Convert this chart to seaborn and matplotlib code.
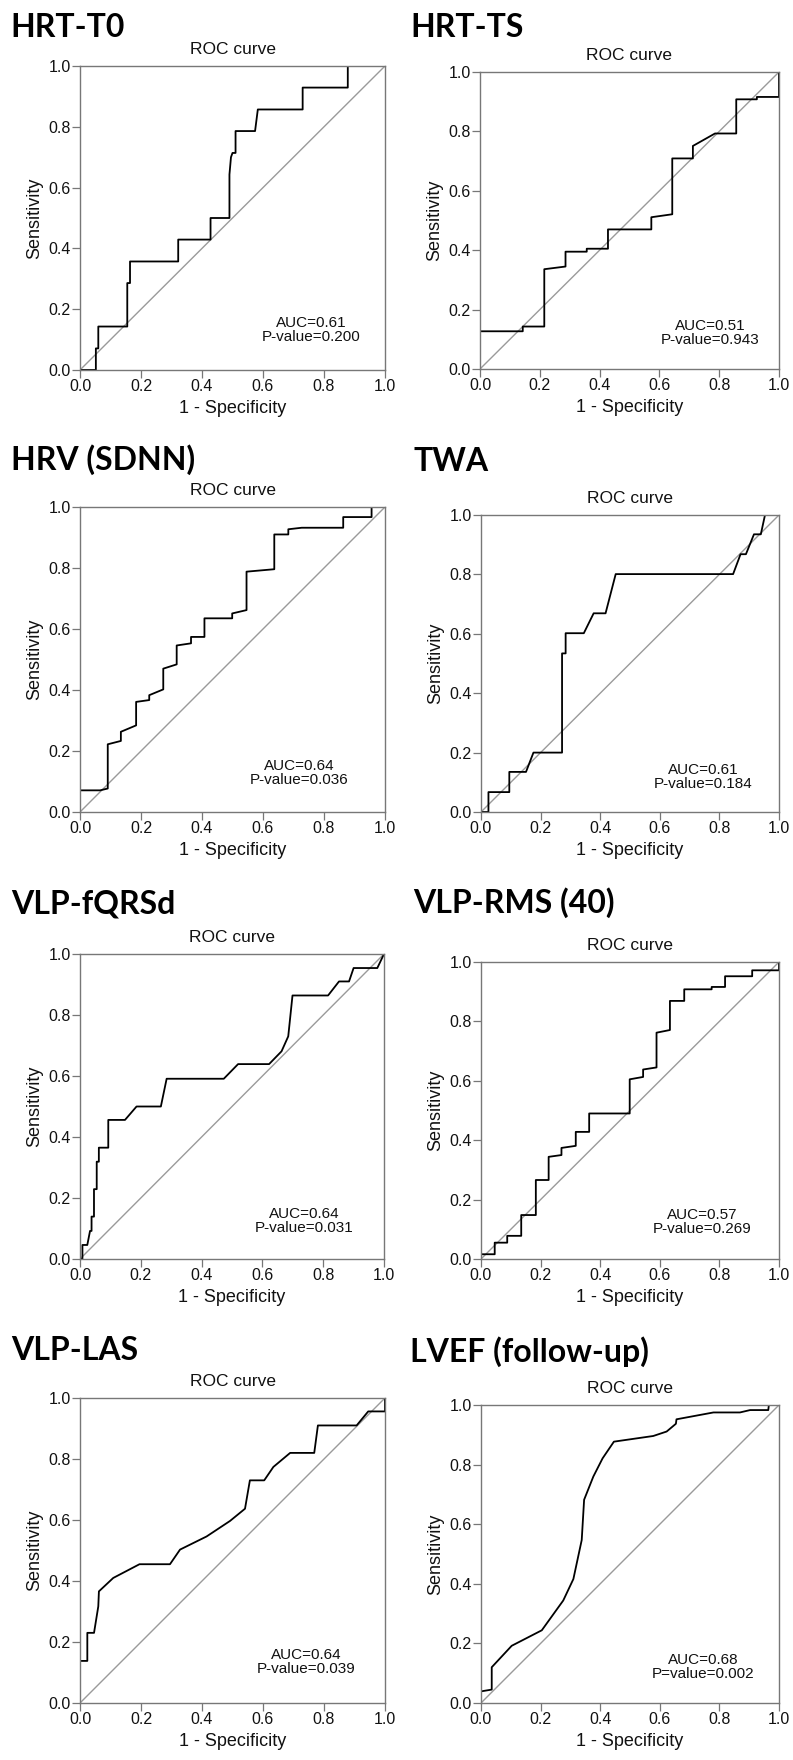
import seaborn as sns
import matplotlib.pyplot as plt

# ROC curve points: (1 - specificity, sensitivity)
hrt_t0_fpr = [0, 0.052, 0.052, 0.060, 0.060, 0.155, 0.155, 0.164, 0.164, 0.322, 0.322, 0.428, 0.428,
              0.490, 0.490, 0.495, 0.500, 0.510, 0.510, 0.574, 0.583, 0.730, 0.730, 0.878, 0.878, 1.0]
hrt_t0_tpr = [0, 0, 0.071, 0.071, 0.143, 0.143, 0.286, 0.286, 0.357, 0.357, 0.429, 0.429, 0.5,
              0.5, 0.643, 0.70, 0.714, 0.714, 0.786, 0.786, 0.857, 0.857, 0.929, 0.929, 1.0, 1.0]

hrt_ts_fpr = [0, 0, 0.143, 0.143, 0.215, 0.215, 0.286, 0.286, 0.357, 0.357, 0.428, 0.428, 0.573,
              0.573, 0.643, 0.643, 0.712, 0.712, 0.786, 0.857, 0.857, 0.926, 0.926, 1.0, 1.0]
hrt_ts_tpr = [0, 0.127, 0.127, 0.143, 0.143, 0.336, 0.345, 0.395, 0.395, 0.405, 0.405, 0.470, 0.470,
              0.511, 0.521, 0.709, 0.709, 0.751, 0.793, 0.793, 0.908, 0.908, 0.916, 0.916, 1.0]

hrv_fpr = [0, 0, 0.066, 0.091, 0.091, 0.134, 0.134, 0.184, 0.184, 0.227, 0.227, 0.273, 0.273, 0.317,
           0.317, 0.364, 0.364, 0.408, 0.408, 0.499, 0.499, 0.546, 0.546, 0.637, 0.637, 0.683, 0.683,
           0.727, 0.863, 0.863, 0.956, 0.956, 1.0]
hrv_tpr = [0, 0.071, 0.071, 0.077, 0.222, 0.233, 0.263, 0.284, 0.361, 0.367, 0.383, 0.402, 0.470, 0.484,
           0.546, 0.553, 0.574, 0.574, 0.635, 0.635, 0.651, 0.662, 0.788, 0.796, 0.910, 0.910, 0.927,
           0.932, 0.932, 0.967, 0.967, 1.0, 1.0]

twa_fpr = [0, 0.025, 0.025, 0.095, 0.095, 0.151, 0.176, 0.272, 0.272, 0.284, 0.284, 0.345, 0.378,
           0.418, 0.452, 0.846, 0.871, 0.889, 0.916, 0.939, 0.953, 1.0]
twa_tpr = [0, 0, 0.067, 0.067, 0.135, 0.135, 0.2, 0.2, 0.534, 0.534, 0.602, 0.602, 0.669,
           0.669, 0.801, 0.801, 0.868, 0.868, 0.935, 0.935, 1.0, 1.0]

fqrsd_fpr = [0, 0.008, 0.008, 0.024, 0.033, 0.038, 0.038, 0.046, 0.046, 0.055, 0.055, 0.062, 0.062,
             0.093, 0.093, 0.148, 0.186, 0.266, 0.285, 0.473, 0.520, 0.622, 0.663, 0.685, 0.699,
             0.816, 0.852, 0.885, 0.900, 0.978, 1.0]
fqrsd_tpr = [0, 0, 0.046, 0.046, 0.092, 0.092, 0.139, 0.139, 0.229, 0.229, 0.319, 0.319, 0.365,
             0.365, 0.456, 0.456, 0.5, 0.5, 0.591, 0.591, 0.639, 0.639, 0.681, 0.730, 0.864,
             0.864, 0.910, 0.910, 0.954, 0.954, 1.0]

rms_fpr = [0, 0, 0.046, 0.046, 0.088, 0.088, 0.135, 0.135, 0.184, 0.184, 0.227, 0.227, 0.270, 0.270,
           0.318, 0.318, 0.363, 0.363, 0.499, 0.499, 0.544, 0.544, 0.589, 0.589, 0.634, 0.634, 0.682,
           0.682, 0.774, 0.774, 0.819, 0.819, 0.910, 0.910, 1.0, 1.0]
rms_tpr = [0, 0.016, 0.016, 0.055, 0.055, 0.078, 0.078, 0.148, 0.148, 0.266, 0.266, 0.344, 0.350, 0.374,
           0.381, 0.428, 0.428, 0.490, 0.490, 0.605, 0.613, 0.638, 0.645, 0.762, 0.771, 0.869, 0.869,
           0.908, 0.908, 0.916, 0.916, 0.952, 0.952, 0.972, 0.972, 1.0]

las_fpr = [0, 0, 0.024, 0.024, 0.046, 0.060, 0.062, 0.109, 0.195, 0.295, 0.328, 0.415, 0.492, 0.541,
           0.557, 0.604, 0.634, 0.689, 0.768, 0.780, 0.907, 0.945, 1.0, 1.0]
las_tpr = [0, 0.138, 0.138, 0.230, 0.230, 0.317, 0.366, 0.410, 0.455, 0.455, 0.503, 0.546, 0.597, 0.637,
           0.730, 0.730, 0.774, 0.820, 0.820, 0.910, 0.910, 0.956, 0.956, 1.0]

lvef_fpr = [0, 0, 0.036, 0.036, 0.103, 0.204, 0.276, 0.310, 0.338, 0.346, 0.377, 0.408, 0.446, 0.578,
            0.623, 0.654, 0.656, 0.780, 0.869, 0.903, 0.964, 0.966, 1.0]
lvef_tpr = [0, 0.039, 0.045, 0.120, 0.192, 0.244, 0.344, 0.416, 0.547, 0.682, 0.760, 0.821, 0.877, 0.896,
            0.911, 0.937, 0.952, 0.975, 0.975, 0.983, 0.983, 1.0, 1.0]

diag = [0.0, 1.0]

titles = ["HRT-T0", "HRT-TS", "HRV (SDNN)", "TWA", "VLP-fQRSd", "VLP-RMS (40)", "VLP-LAS", "LVEF (follow-up)"]
auc_labels = ["AUC=0.61\nP-value=0.200", "AUC=0.51\nP-value=0.943", "AUC=0.64\nP-value=0.036",
              "AUC=0.61\nP-value=0.184", "AUC=0.64\nP-value=0.031", "AUC=0.57\nP-value=0.269",
              "AUC=0.64\nP-value=0.039", "AUC=0.68\nP=value=0.002"]
curves = [(hrt_t0_fpr, hrt_t0_tpr), (hrt_ts_fpr, hrt_ts_tpr), (hrv_fpr, hrv_tpr), (twa_fpr, twa_tpr),
          (fqrsd_fpr, fqrsd_tpr), (rms_fpr, rms_tpr), (las_fpr, las_tpr), (lvef_fpr, lvef_tpr)]

# layout in pixels: axes box (left, top, right, bottom), panel title (x, baseline), AUC text pos (axes frac)
W, H = 793, 1760
boxes = [(80, 66, 385, 370), (480, 72, 779, 369), (80, 507, 385, 812), (481, 515, 779, 812),
         (80, 954, 384, 1259), (481, 962, 779, 1259), (80, 1398, 385, 1703), (481, 1405, 779, 1703)]
title_pos = [(10, 37), (410, 37), (11, 470), (413, 471), (11, 913), (413, 913), (11, 1360), (410, 1362)]
auc_pos = [(0.757, 0.13), (0.77, 0.12), (0.72, 0.128), (0.745, 0.118),
           (0.737, 0.125), (0.742, 0.125), (0.741, 0.134), (0.745, 0.121)]

sns.set_style("ticks")
plt.rcParams['font.family'] = ['Liberation Sans', 'DejaVu Sans']

fig = plt.figure(figsize=(W / 100, H / 100), dpi=100)

for i in range(8):
    l, t, r, b = boxes[i]
    ax = fig.add_axes([l / W, 1 - b / H, (r - l) / W, (b - t) / H])
    fpr, tpr = curves[i]
    sns.lineplot(x=diag, y=diag, color="#9a9a9a", lw=1.0, ax=ax)
    sns.lineplot(x=fpr, y=tpr, sort=False, estimator=None, color="black", lw=1.3, ax=ax)
    ax.set_xlim(0, 1)
    ax.set_ylim(0, 1)
    ticks = [0, 0.2, 0.4, 0.6, 0.8, 1.0]
    ax.set_xticks(ticks)
    ax.set_yticks(ticks)
    ax.set_xticklabels([f"{v:.1f}" for v in ticks])
    ax.set_yticklabels([f"{v:.1f}" for v in ticks])
    ax.tick_params(direction="out", length=5.5, width=0.9, color="#777777", labelsize=11.5,
                   pad=1.2, labelcolor="#111111")
    for sp in ax.spines.values():
        sp.set_visible(True)
        sp.set_color("#777777")
        sp.set_linewidth(1.0)
    ax.set_title("ROC curve", fontsize=12.5, pad=8.6, color="#111111")
    ax.set_xlabel("1 - Specificity", fontsize=13, labelpad=4, color="#111111")
    ax.set_ylabel("Sensitivity", fontsize=13, labelpad=4, color="#111111")
    ax.text(auc_pos[i][0], auc_pos[i][1], auc_labels[i], transform=ax.transAxes, ha="center",
            va="center", fontsize=11, linespacing=1.0, color="#111111")
    tx, ty = title_pos[i]
    fig.text(tx / W, 1 - ty / H, titles[i], fontsize=23, fontweight="bold", va="baseline",
             ha="left", family=["Lato", "DejaVu Sans"], color="black")

fig.savefig("out.png", dpi=100)
